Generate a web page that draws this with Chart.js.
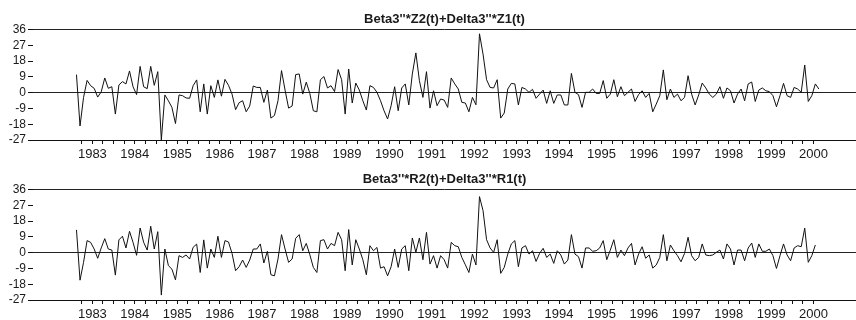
<!DOCTYPE html>
<html>
<head>
<meta charset="utf-8">
<script src="https://cdn.jsdelivr.net/npm/chart.js@4"></script>
<style>
  body { margin: 0; background: #fff; }
  .panel { position: absolute; left: 0; width: 856px; height: 160px; }
</style>
</head>
<body>
<div class="panel" style="top:0"><canvas id="chart-z" width="856" height="160"></canvas></div>
<div class="panel" style="top:160px"><canvas id="chart-r" width="856" height="160"></canvas></div>
<script>
// monthly series, first observation 1983M2
const startYear = 1983;
const startMonth = 2;
const yearLabels = [1983, 1984, 1985, 1986, 1987, 1988, 1989, 1990, 1991, 1992,
                    1993, 1994, 1995, 1996, 1997, 1998, 1999, 2000];
const yTicks = [-27, -18, -9, 0, 9, 18, 27, 36];

const zTitle = "Beta3''*Z2(t)+Delta3''*Z1(t)";
const rTitle = "Beta3''*R2(t)+Delta3''*R1(t)";

const zValues = [
  10.3, -19, -2.7, 7, 4, 2.5, -2.5, 0.5, 8.4, 2.5, 3.4, -12.2,
  4.4, 6.3, 5, 12.4, 3.4, -1.1, 15, 3.4, 2.3, 15, 4.2, 12,
  -27, -1.3, -4.6, -8.4, -17.6, -1.3, -1.7, -3, -3.2, 4, 7.3, -10.9,
  5, -12.2, 4, -2.7, 7.3, -2, 7.6, 4.2, -0.8, -9.7, -5.7, -4.6,
  -10.9, -7.6, 3.8, 3, 3, -5.5, 1.5, -14.5, -13, -4.6, 12.6, 1.5,
  -8.8, -7.6, 10.3, 10.7, -0.8, 6, -0.4, -10.3, -10.9, 7.4, 9.2, 2.7,
  4, 0.6, 13.2, 7.4, -12.2, 13.5, -5.9, 5.5, 1.5, -4.6, -9.9, 4,
  3, 0.2, -4.6, -10.3, -15, -7.4, 3.4, -10.3, 2.7, 5, -7, 10.7,
  22.7, 6.9, -2.7, 12, -8.8, 1.1, -7.4, -3.6, -4.2, -8.4, 8.4, 5,
  2.1, -5.5, -5.9, -10.9, -2.7, -6.9, 33.6, 22, 7.4, 3, 2.7, 7.4,
  -14.5, -11.6, 2.1, 5.3, 5, -7, 3, 2.1, 0.2, 1.9, -3.2, -0.8,
  1.5, -6.1, 1.1, -6.1, -1.3, -1.3, -7, -7, 11, 0.2, -1.1, -8.4,
  0.2, 0.2, 2.1, -0.4, -0.4, 6.9, -3.2, -0.8, 7.4, -2.3, 3.4, -1.7,
  0.2, 2.1, -5, -1.1, 1.1, -2.7, -0.4, -10.9, -6.5, -1.7, 13, -4,
  2.1, -2.7, -0.8, -4.6, -2.7, 9.7, -0.8, -7, -1.3, 5.5, 2.7, -0.8,
  -2.7, -0.8, 3.4, -3.2, 2.7, 1.1, -5.9, -0.8, 2.1, -4.6, 5, 6.1,
  -5, 1.5, 2.7, 1.1, 0.6, -1.7, -8, -1.7, 5.3, -1.7, -2.7, 3,
  2.1, 0.2, 15.8, -5, -1.7, 5, 2.1
];

const rValues = [
  13, -15.7, -5.5, 6.9, 5.9, 2.1, -3.2, 2.7, 8, 2.1, 1.5, -12.8,
  7.3, 9.4, 2.7, 12.2, 5.9, -1.5, 14.1, 5.9, 1.5, 15.1, 2.1, 12,
  -24.2, 2.1, -7.4, -9.4, -15.5, -1.7, -2.7, -1.3, -3.6, 3.1, 4.9, -11.3,
  7.3, -8.8, 2.1, -2.7, 9.4, -2.7, 6.9, 6.1, -0.4, -10.3, -8, -4.2,
  -8.4, -4.2, 2.1, 2.1, 5, -5.9, 0.8, -12.6, -13.2, -3.6, 10.3, 2.1,
  -5.5, -3.6, 8.2, 10.3, 1.1, 5.3, -1.1, -8.4, -11.3, 6.9, 7.4, 2.1,
  5.3, 4, 11.6, 7.4, -10.3, 13.2, -7, 7.4, 2.1, -4, -12.6, 4,
  1.1, 3, -8.8, -8, -13.2, -8, 2.1, -8.4, 2.1, 4, -10.3, 8.4,
  0.2, 8.4, -4, 11.6, -6.5, -1.7, -8.8, -1.7, -4, -8.8, 5.9, 4,
  3.4, -2.7, -6.9, -11.3, -0.8, -7, 32, 24, 7.4, 2.7, 0.2, 7.4,
  -11.8, -8.4, -0.8, 5, 6.9, -8, 2.7, 4, -0.8, 1.1, -5, -0.4,
  2.5, -2.7, -0.8, -6.1, 1.1, -1.3, -6.5, -4.2, 10.3, -0.8, -2.3, -8.8,
  2.7, 2.7, 0.8, 1.1, 2.7, 6.9, -4, 1.5, 7.4, -2.7, 1.5, -1.7,
  2.7, 5.3, -7, -0.8, 3.4, -3.2, -1.3, -8.8, -7, -2.7, 10.3, -4.6,
  4.4, 1.1, -1.7, -5.2, -0.4, 8.8, -1.7, -4.6, -2.7, 5, -1.3, -1.7,
  -1.3, 0.2, 1.5, -3.6, 5, 2.1, -7, 1.5, 1.5, -4.6, 2.7, 5.5,
  -2.7, 5, 0.8, 0.8, 2.1, -1.7, -9, -1.7, 5, -1.3, -4.6, 2.7,
  4, 3.4, 14, -5.5, -1.7, 4.4
];

const fontFamily = "'Liberation Sans', Arial, sans-serif";
const ink = '#1a1a1a';

function makeChart(id, title, values) {
  // x is a fractional year, each month plotted at its middle
  const points = values.map((v, i) => ({ x: startYear + (startMonth - 0.5 + i) / 12, y: v }));
  const first = points[0].x;
  const last = points[points.length - 1].x;

  // quarter tick marks inside the sample; year names sit on the mid-year mark
  const quarterTicks = [];
  yearLabels.forEach(y => {
    [0, 0.25, 0.5, 0.75].forEach(q => {
      if (y + q >= first && y + q <= last) quarterTicks.push(y + q);
    });
  });

  return new Chart(document.getElementById(id), {
    type: 'line',
    data: {
      datasets: [{
        data: points,
        borderColor: '#111',
        borderWidth: 1,
        pointRadius: 0,
        tension: 0,
        fill: false,
      }]
    },
    options: {
      responsive: false,
      animation: false,
      devicePixelRatio: 1,
      layout: { padding: 0 },
      plugins: {
        legend: { display: false },
        tooltip: { enabled: false },
        title: {
          display: true,
          text: title,
          fullSize: false,
          color: ink,
          font: { family: fontFamily, size: 13, weight: 'bold' },
          padding: { top: 12, bottom: 2 },
        },
      },
      scales: {
        x: {
          type: 'linear',
          min: 1982.1,
          max: 2001.5,
          afterBuildTicks: s => { s.ticks = quarterTicks.map(v => ({ value: v })); },
          afterFit: s => { s.height = 20; },
          grid: { display: true, drawOnChartArea: false, drawTicks: true, tickLength: 4, tickColor: '#111' },
          border: { display: true, color: '#111', width: 1 },
          ticks: {
            autoSkip: false,
            maxRotation: 0,
            padding: 3,
            color: ink,
            font: { family: fontFamily, size: 13 },
            callback: v => (v % 1 === 0.5 ? String(Math.floor(v)) : ''),
          },
        },
        y: {
          min: -27,
          max: 36,
          afterBuildTicks: s => { s.ticks = yTicks.map(v => ({ value: v })); },
          afterFit: s => { s.width = 33; },
          grid: {
            drawOnChartArea: true,
            drawTicks: true,
            tickLength: 5,
            tickColor: '#111',
            color: c => (c.tick && (c.tick.value === 0 || c.tick.value === 36)) ? '#222' : 'rgba(0,0,0,0)',
          },
          border: { display: false },
          ticks: {
            autoSkip: false,
            padding: 2,
            color: ink,
            font: { family: fontFamily, size: 12 },
            callback: v => String(v),
          },
        },
      },
    },
  });
}

makeChart('chart-z', zTitle, zValues);
makeChart('chart-r', rTitle, rValues);
</script>
</body>
</html>
